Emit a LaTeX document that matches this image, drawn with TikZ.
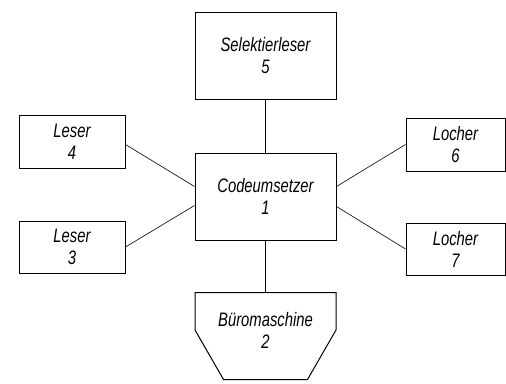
\documentclass[tikz,border=0pt]{standalone}
\usepackage{fontspec}
\setmainfont{Liberation Sans}[ItalicFeatures={FakeStretch=0.76}]
\begin{document}
\begin{tikzpicture}[
    x=1pt,y=-1pt,
    unit/.style={draw,line width=1pt,align=center,inner sep=0pt,font=\fontsize{19.5}{22}\selectfont\itshape},
    wire/.style={line width=0.6pt}
]
\useasboundingbox (0,0) rectangle (506,383);
% centre
\node[unit,minimum width=141pt,minimum height=87pt] (code) at (265.5,196.5) {Codeumsetzer\\1};
\node[unit,minimum width=141pt,minimum height=87pt] (sel) at (265.5,55.5) {Selektierleser\\5};

% readers left
\node[unit,minimum width=106pt,minimum height=53pt] (leser4) at (72,141.5) {Leser\\4};
\node[unit,minimum width=106pt,minimum height=52pt] (leser3) at (72,247) {Leser\\3};

% punches right
\node[unit,minimum width=99pt,minimum height=53pt] (locher6) at (455.5,144.5) {Locher\\6};
\node[unit,minimum width=99pt,minimum height=52pt] (locher7) at (455.5,249) {Locher\\7};

% office machine
\node[unit,draw=none,minimum width=140pt,minimum height=74pt] (buero) at (265.5,330) {B\"uromaschine\\2};
\draw[line width=1pt] (buero.north west) -- (buero.north east) -- (buero.east)
    -- ([xshift=42pt,yshift=-12pt]buero.south) -- ([xshift=-42pt,yshift=-12pt]buero.south)
    -- (buero.west) -- cycle;

% links
\draw[wire] (sel.south) -- (code.north);
\draw[wire] (code.south) -- (buero.north);
\draw[wire] ([yshift=-3pt]leser4.east) -- ([yshift=10pt]code.west);
\draw[wire] (leser3.east) -- ([yshift=-9pt]code.west);
\draw[wire] (locher6.west) -- ([yshift=10pt]code.east);
\draw[wire] (locher7.west) -- ([yshift=-10pt]code.east);
\end{tikzpicture}
\end{document}
